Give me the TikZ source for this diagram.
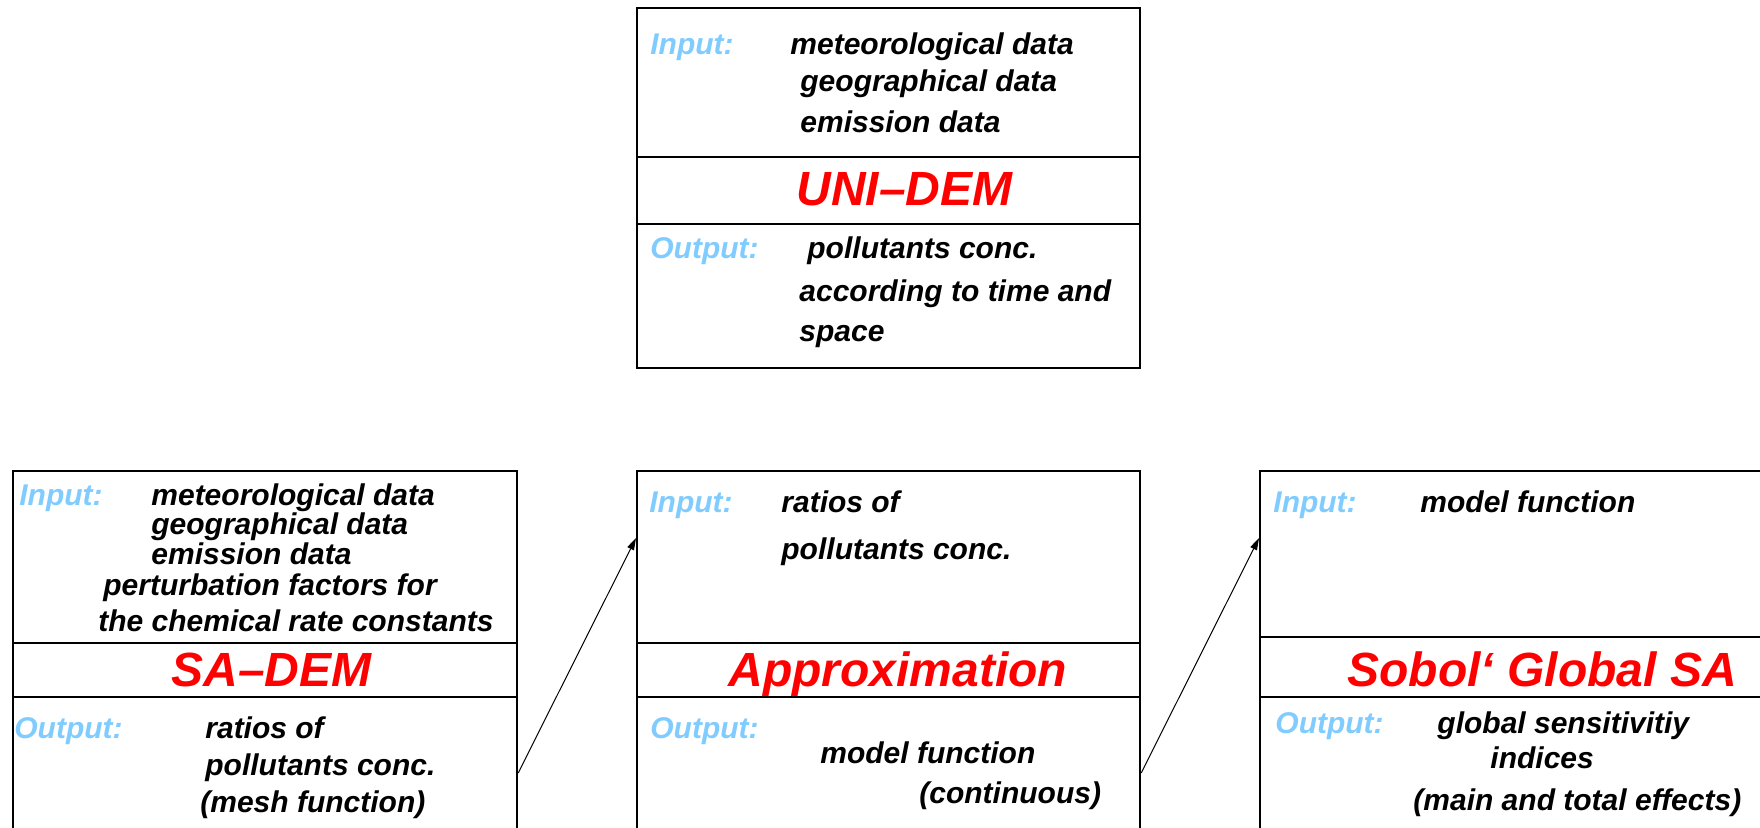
\documentclass[tikz,border=0pt]{standalone}
\usepackage{fontspec}
\setmainfont{Liberation Sans}
\usetikzlibrary{arrows.meta}
\definecolor{lblue}{RGB}{128,204,255}
\definecolor{tred}{RGB}{255,0,0}
\tikzset{
  frame/.style={draw=black, line width=1.1pt, rectangle, inner sep=0pt, anchor=north west},
  divline/.style={draw=black, line width=0.55pt},
  txt/.style={anchor=base west, inner sep=0pt, font=\fontsize{15pt}{18pt}\selectfont\bfseries\itshape},
  lab/.style={txt, text=lblue},
  ttl/.style={anchor=base west, inner sep=0pt, text=tred, font=\fontsize{24pt}{28pt}\selectfont\bfseries\itshape},
  conn/.style={draw=black, line width=0.5pt, -{Triangle[length=6pt,width=3.6pt]}}
}
\begin{document}
\begin{tikzpicture}[x=0.5pt,y=-0.5pt]
\useasboundingbox (0,0) rectangle (1760,828);
\clip (0,0) rectangle (1760,828);
% frames
\node[frame, minimum width=251.5pt, minimum height=180pt] (unibox) at (636,7) {};
\node[frame, minimum width=252pt, minimum height=190pt] (sabox) at (12,470) {};
\node[frame, minimum width=251.5pt, minimum height=190pt] (apbox) at (636,470) {};
\node[frame, minimum width=260pt, minimum height=190pt] (sobox) at (1259,470) {};
% dividers
\draw[divline] (unibox.west |- 0,157) -- (unibox.east |- 0,157);
\draw[divline] (unibox.west |- 0,224) -- (unibox.east |- 0,224);
\draw[divline] (sabox.west |- 0,643) -- (sabox.east |- 0,643);
\draw[divline] (sabox.west |- 0,697) -- (sabox.east |- 0,697);
\draw[divline] (apbox.west |- 0,643) -- (apbox.east |- 0,643);
\draw[divline] (apbox.west |- 0,697) -- (apbox.east |- 0,697);
\draw[divline] (sobox.west |- 0,637) -- (sobox.east |- 0,637);
\draw[divline] (sobox.west |- 0,697) -- (sobox.east |- 0,697);
% UNI-DEM box
\node[lab] (u-in) at (650,55) {Input:};
\node[txt] (u-i1) at (790,55) {meteorological data};
\node[txt] (u-i2) at (800,92) {geographical data};
\node[txt] (u-i3) at (800,133) {emission data};
\node[ttl] (u-t) at (796,206) {UNI–DEM};
\node[lab] (u-out) at (650,259) {Output:};
\node[txt] (u-o1) at (807,259) {pollutants conc.};
\node[txt] (u-o2) at (799,302) {according to time and};
\node[txt] (u-o3) at (799,342) {space};
% SA-DEM box
\node[lab] (s-in) at (19,505) {Input:};
\node[txt] (s-i1) at (151,505) {meteorological data};
\node[txt] (s-i2) at (151,534) {geographical data};
\node[txt] (s-i3) at (151,564) {emission data};
\node[txt] (s-i4) at (103,595) {perturbation factors for};
\node[txt] (s-i5) at (98,631) {the chemical rate constants};
\node[ttl] (s-t) at (171,686) {SA–DEM};
\node[lab] (s-out) at (14,738) {Output:};
\node[txt] (s-o1) at (205,738) {ratios of};
\node[txt] (s-o2) at (205,775) {pollutants conc.};
\node[txt] (s-o3) at (200,812) {(mesh function)};
% Approximation box
\node[lab] (a-in) at (649,512) {Input:};
\node[txt] (a-i1) at (781,512) {ratios of};
\node[txt] (a-i2) at (781,559) {pollutants conc.};
\node[ttl] (a-t) at (728,686) {Approximation};
\node[lab] (a-out) at (650,738) {Output:};
\node[txt] (a-o1) at (820,763) {model function};
\node[txt] (a-o2) at (919,803) {(continuous)};
% Sobol box
\node[lab] (g-in) at (1273,512) {Input:};
\node[txt] (g-i1) at (1420,512) {model function};
\node[ttl] (g-t) at (1347,686) {Sobol‘ Global SA};
\node[lab] (g-out) at (1275,733) {Output:};
\node[txt] (g-o1) at (1437,733) {global sensitivitiy};
\node[txt] (g-o2) at (1490,768) {indices};
\node[txt] (g-o3) at (1413,810) {(main and total effects)};
% connectors
\coordinate (c1s) at (sabox.east |- 0,773);
\coordinate (c1e) at (apbox.west |- 0,538);
\coordinate (c2s) at (apbox.east |- 0,773);
\coordinate (c2e) at (sobox.west |- 0,538);
\draw[conn] (c1s) -- (c1e);
\draw[conn] (c2s) -- (c2e);
\end{tikzpicture}
\end{document}
